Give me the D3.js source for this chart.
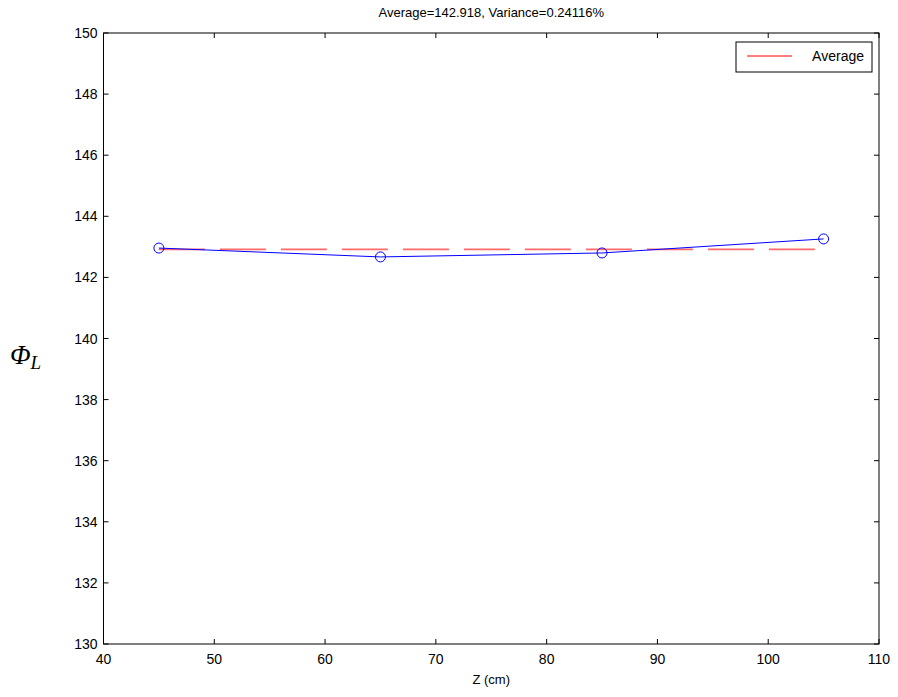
<!DOCTYPE html>
<html>
<head>
<meta charset="utf-8">
<script src="https://cdn.jsdelivr.net/npm/d3@7"></script>
<style>
  body { margin: 0; background: #fff; }
  svg { display: block; font-family: "Liberation Sans", Arial, sans-serif; }
</style>
</head>
<body>
<div id="chart"></div>
<script>
// measured positions along the beam (cm) and the fitted Phi_L value
const zValues = [45, 65, 85, 105];
const phiValues = [142.96, 142.67, 142.80, 143.26];
const average = 142.918;
const xTicks = [40, 50, 60, 70, 80, 90, 100, 110];
const yTicks = [130, 132, 134, 136, 138, 140, 142, 144, 146, 148, 150];
const titleText = "Average=142.918, Variance=0.24116%";

const W = 898, H = 697;
const m = { left: 103.5, right: 898 - 879, top: 33, bottom: 697 - 644 };

const svg = d3.select("#chart").append("svg").attr("width", W).attr("height", H);

const x = d3.scaleLinear().domain([40, 110]).range([m.left, W - m.right]);
const y = d3.scaleLinear().domain([130, 150]).range([H - m.bottom, m.top]);

// ticks on all four sides, pointing inward
const tick = 5;
const axes = svg.append("g").attr("stroke", "#000").attr("stroke-width", 1);
xTicks.forEach(t => {
  axes.append("line").attr("x1", x(t)).attr("x2", x(t)).attr("y1", y(130)).attr("y2", y(130) - tick);
  axes.append("line").attr("x1", x(t)).attr("x2", x(t)).attr("y1", y(150)).attr("y2", y(150) + tick);
});
yTicks.forEach(t => {
  axes.append("line").attr("x1", x(40)).attr("x2", x(40) + tick).attr("y1", y(t)).attr("y2", y(t));
  axes.append("line").attr("x1", x(110)).attr("x2", x(110) - tick).attr("y1", y(t)).attr("y2", y(t));
});
axes.append("rect").attr("x", x(40)).attr("y", y(150))
  .attr("width", x(110) - x(40)).attr("height", y(130) - y(150)).attr("fill", "none");

const labels = svg.append("g").attr("font-size", 14).attr("fill", "#000");
xTicks.forEach(t => labels.append("text").attr("x", x(t)).attr("y", y(130) + 20)
  .attr("text-anchor", "middle").text(t));
yTicks.forEach(t => labels.append("text").attr("x", x(40) - 6).attr("y", y(t) + 5)
  .attr("text-anchor", "end").text(t));

svg.append("text").attr("x", (x(40) + x(110)) / 2).attr("y", 17).attr("text-anchor", "middle")
  .attr("font-size", 13).text(titleText);
svg.append("text").attr("x", (x(40) + x(110)) / 2).attr("y", 684).attr("text-anchor", "middle")
  .attr("font-size", 13).text("Z (cm)");

const yl = svg.append("text").attr("x", 10).attr("y", 364)
  .attr("font-family", "'Liberation Serif', 'Times New Roman', serif").attr("font-style", "italic");
yl.append("tspan").attr("font-size", 27).text("Φ");
yl.append("tspan").attr("font-size", 19).attr("dy", 5).text("L");

// average line
svg.append("line")
  .attr("x1", x(zValues[0])).attr("x2", x(zValues[zValues.length - 1]))
  .attr("y1", y(average)).attr("y2", y(average))
  .attr("stroke", "#ff6a6a").attr("stroke-width", 1.6).attr("stroke-dasharray", "46,15");

// data line + circle markers
const line = d3.line().x((d, i) => x(zValues[i])).y(d => y(d));
svg.append("path").datum(phiValues).attr("d", line)
  .attr("fill", "none").attr("stroke", "#0000ff").attr("stroke-width", 1);
svg.selectAll("circle.pt").data(phiValues).join("circle").attr("class", "pt")
  .attr("cx", (d, i) => x(zValues[i])).attr("cy", d => y(d)).attr("r", 5)
  .attr("fill", "none").attr("stroke", "#0000ff").attr("stroke-width", 1);

// legend
const lg = svg.append("g");
lg.append("rect").attr("x", 736).attr("y", 42).attr("width", 136).attr("height", 30)
  .attr("fill", "#fff").attr("stroke", "#000").attr("stroke-width", 1);
lg.append("line").attr("x1", 747).attr("x2", 792).attr("y1", 56).attr("y2", 56)
  .attr("stroke", "#ff0000").attr("stroke-width", 1);
lg.append("text").attr("x", 864).attr("y", 61).attr("text-anchor", "end")
  .attr("font-size", 14).text("Average");
</script>
</body>
</html>
